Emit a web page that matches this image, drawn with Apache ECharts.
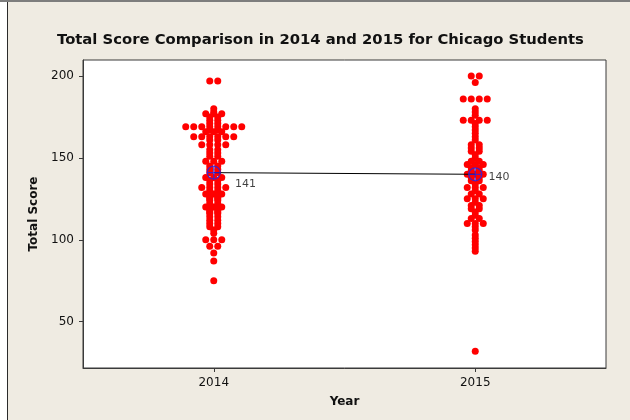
<!DOCTYPE html>
<html>
<head>
<meta charset="utf-8">
<script src="https://cdn.jsdelivr.net/npm/echarts@6/dist/echarts.min.js"></script>
<style>
  html, body { margin: 0; padding: 0; background: #fff; }
  #frame { position: absolute; left: 0; top: 0; width: 630px; height: 420px; border-top: 2px solid #7d7d7d; box-sizing: border-box; }
  #panel { position: absolute; left: 7px; top: 0; right: 0; bottom: 0; background: #efebe2; border-left: 1px solid #2b2b2b; }
  #chart { position: absolute; left: 0; top: 0; width: 630px; height: 420px; }
</style>
</head>
<body>
<div id="frame"><div id="panel"></div></div>
<div id="chart"></div>
<script>
// values
var years = [2014, 2015];
var scores2014 = [
  197, 197, 180, 178, 177, 177, 177, 175, 175, 173, 173, 171, 171,
  169, 169, 169, 169, 169, 169, 169, 169, 167, 167, 166, 166, 166,
  163, 163, 163, 163, 163, 163, 161, 161, 158, 158, 158, 158,
  155, 155, 153, 153, 151, 151, 148, 148, 148, 145, 145, 143, 143, 141, 141,
  138, 138, 138, 136, 136, 134, 134, 132, 132, 132, 132, 130, 130,
  128, 128, 128, 126, 126, 125, 125, 124, 124, 122, 122, 120, 120, 120,
  118, 118, 117, 117, 116, 116, 114, 114, 112, 112, 110, 110, 108, 108,
  106, 104, 100, 100, 100, 96, 96, 92, 87, 75
];
var scores2015 = [
  200, 200, 196, 186, 186, 186, 186, 180, 178, 176, 173, 173, 173, 173,
  171, 169, 167, 165, 163, 161, 158, 158, 156, 156, 154, 154, 152, 150,
  148, 148, 146, 146, 146, 144, 144, 142, 142, 140, 140, 140, 138, 138,
  136, 136, 134, 132, 132, 132, 130, 128, 128, 125, 125, 125, 123,
  121, 121, 119, 119, 117, 115, 113, 113, 110, 110, 110,
  108, 106, 103, 101, 99, 97, 95, 93, 32
];
var means = [141, 140];
var yTicks = [50, 100, 150, 200];

// spread equal values side by side, like the individual value plot
function stack(year, scores) {
  var counts = {};
  scores.forEach(function (v) { counts[v] = (counts[v] || 0) + 1; });
  var pts = [];
  Object.keys(counts).forEach(function (k) {
    var n = counts[k];
    for (var i = 0; i < n; i++) {
      pts.push([year + (i - (n - 1) / 2) * 0.0306, +k]);
    }
  });
  return pts;
}

var myChart = echarts.init(document.getElementById("chart"));
var font = "DejaVu Sans";
var axisColor = "#3a3a3a";

var meanPoints = years.map(function (y, i) { return [y, means[i]]; });
var labelShift = [[14, 11], [6, 3]];

var option = {
  backgroundColor: "transparent",
  animation: false,
  title: {
    text: "Total Score Comparison in 2014 and 2015 for Chicago Students",
    left: 57,
    top: 33,
    padding: 0,
    textStyle: { fontFamily: font, fontSize: 14.8, fontWeight: "bold", color: "#111" }
  },
  grid: {
    left: 83, right: 24, top: 60, bottom: 52,
    show: true, backgroundColor: "#fff", borderColor: axisColor, borderWidth: 1
  },
  xAxis: {
    type: "value",
    min: 2013.5,
    max: 2015.5,
    name: "Year",
    nameLocation: "middle",
    nameGap: 28,
    nameTextStyle: { fontFamily: font, fontSize: 12, fontWeight: "bold", color: "#111" },
    axisLine: { show: true, lineStyle: { color: axisColor } },
    axisTick: { show: true, length: 4, customValues: years, lineStyle: { color: axisColor } },
    axisLabel: {
      customValues: years, margin: 9,
      fontFamily: font, fontSize: 12, color: "#111",
      formatter: function (v) { return String(v); }
    },
    splitLine: { show: false }
  },
  yAxis: {
    type: "value",
    min: 21.7,
    max: 209.8,
    name: "Total Score",
    nameLocation: "middle",
    nameGap: 42,
    nameTextStyle: { fontFamily: font, fontSize: 12, fontWeight: "bold", color: "#111" },
    axisLine: { show: true, lineStyle: { color: axisColor } },
    axisTick: { show: true, length: 4, customValues: yTicks, lineStyle: { color: axisColor } },
    axisLabel: { customValues: yTicks, margin: 9, fontFamily: font, fontSize: 12, color: "#111" },
    splitLine: { show: false }
  },
  series: [
    {
      type: "scatter",
      data: stack(years[0], scores2014).concat(stack(years[1], scores2015)),
      symbol: "circle",
      symbolSize: 7,
      itemStyle: { color: "#ff0000", opacity: 1 }
    },
    {
      type: "line",
      data: meanPoints,
      symbol: "none",
      lineStyle: { color: "#000", width: 1 },
      z: 3
    },
    {
      type: "scatter",
      z: 4,
      symbol: "path://M0,-10A10,10,0,1,1,0,10A10,10,0,1,1,0,-10ZM-10,0L10,0M0,-10L0,10",
      symbolSize: 13,
      itemStyle: { color: "rgba(0,0,0,0)", borderColor: "#2323e6", borderWidth: 1.3 },
      data: meanPoints.map(function (p, i) {
        return {
          value: p,
          label: {
            show: true,
            position: "right",
            distance: 0,
            offset: labelShift[i],
            formatter: String(means[i]),
            fontFamily: font,
            fontSize: 11,
            color: "#111"
          }
        };
      })
    }
  ]
};

myChart.setOption(option);
</script>
</body>
</html>
